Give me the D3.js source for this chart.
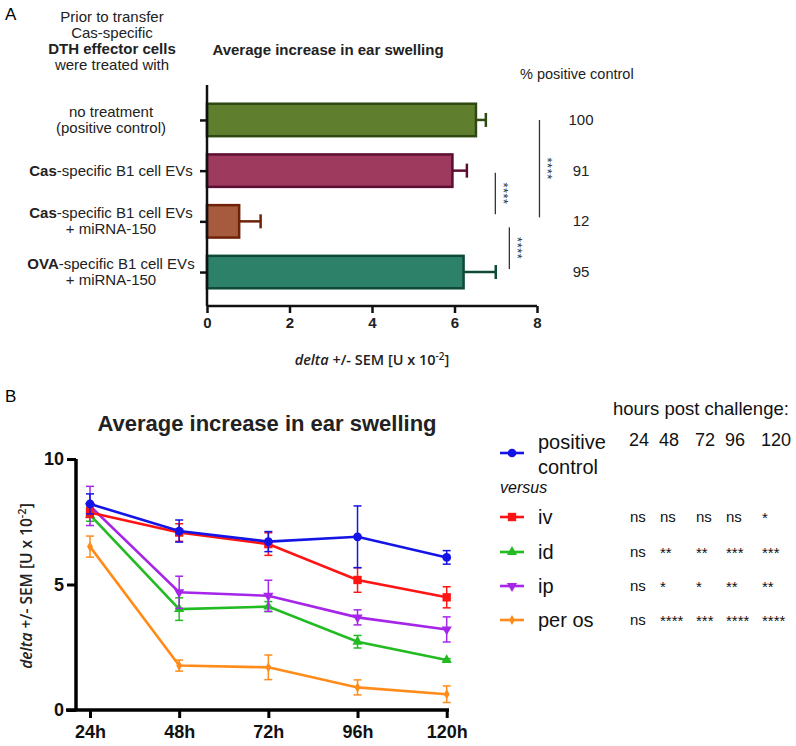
<!DOCTYPE html>
<html>
<head>
<meta charset="utf-8">
<script src="https://cdn.jsdelivr.net/npm/d3@7"></script>
<style>
  html, body { margin: 0; padding: 0; background: #fff; }
  svg { display: block; font-family: "Liberation Sans", Arial, sans-serif; }
</style>
</head>
<body>
<svg id="chart" width="796" height="746"></svg>
<script>
// ---------- Panel A data ----------
const barCategories = ["no treatment", "Cas B1 EVs", "Cas B1 EVs + miRNA-150", "OVA B1 EVs + miRNA-150"];
const barLabelLines = [
  [[{t:"no treatment", b:false}], [{t:"(positive control)", b:false}]],
  [[{t:"Cas", b:true}, {t:"-specific B1 cell EVs", b:false}]],
  [[{t:"Cas", b:true}, {t:"-specific B1 cell EVs", b:false}], [{t:"+ miRNA-150", b:false}]],
  [[{t:"OVA", b:true}, {t:"-specific B1 cell EVs", b:false}], [{t:"+ miRNA-150", b:false}]]
];
const barValues = [6.52, 5.95, 0.78, 6.22];
const barErrors = [0.24, 0.35, 0.52, 0.78];
const barPercent = ["100", "91", "12", "95"];
const barFill = ["#5f7f2f", "#9e3a5e", "#a65a3e", "#2d8169"];
const barStroke = ["#2e4a12", "#5c0f32", "#6e2208", "#0f4a36"];
const barXTicks = [0, 2, 4, 6, 8];
const sigComparisons = [
  {from: 1, to: 2, x: 6.99, label: "****", off0: 2, off1: -7},
  {from: 0, to: 2, x: 8.06, label: "****", off0: 0, off1: -4},
  {from: 2, to: 3, x: 7.33, label: "****", off0: 6, off1: -3}
];

// ---------- Panel B data ----------
const timepoints = ["24h", "48h", "72h", "96h", "120h"];
const yTicksB = [0, 5, 10];
const seriesNames = ["positive control", "iv", "id", "ip", "per os"];
const seriesColors = ["#1414e6", "#ff1414", "#22bb22", "#a526e8", "#ff8c1a"];
const seriesSymbols = ["circle", "square", "triangle", "triangleDown", "diamond"];
const posControl = [8.21, 7.13, 6.71, 6.90, 6.08];
const posControlErr = [0.40, 0.44, 0.40, 1.23, 0.27];
const ivValues = [7.87, 7.07, 6.61, 5.18, 4.49];
const ivErr = [0.20, 0.35, 0.45, 0.49, 0.42];
const idValues = [7.77, 4.02, 4.12, 2.72, 1.99];
const idErr = [0.25, 0.45, 0.20, 0.25, 0.05];
const ipValues = [8.13, 4.69, 4.55, 3.69, 3.21];
const ipErr = [0.78, 0.64, 0.62, 0.30, 0.50];
const perOsValues = [6.51, 1.77, 1.70, 0.90, 0.63];
const perOsErr = [0.42, 0.22, 0.49, 0.30, 0.33];
const hoursHeader = ["24", "48", "72", "96", "120"];
const sigIv = ["ns", "ns", "ns", "ns", "*"];
const sigId = ["ns", "**", "**", "***", "***"];
const sigIp = ["ns", "*", "*", "**", "**"];
const sigPerOs = ["ns", "****", "***", "****", "****"];

const svg = d3.select("#chart");

// =============== PANEL A ===============
svg.append("text").attr("x", 5).attr("y", 20).attr("font-size", 17).text("A");

const introLines = [
  {t: "Prior to transfer", b: false},
  {t: "Cas-specific", b: false},
  {t: "DTH effector cells", b: true},
  {t: "were treated with", b: false}
];
introLines.forEach((l, i) => {
  svg.append("text").attr("x", 112).attr("y", 22 + i * 16)
    .attr("text-anchor", "middle").attr("font-size", 15)
    .attr("font-weight", l.b ? "bold" : "normal").attr("fill", "#222").text(l.t);
});

svg.append("text").attr("x", 328).attr("y", 55).attr("text-anchor", "middle")
  .attr("font-size", 15).attr("font-weight", "bold").attr("fill", "#222")
  .text("Average increase in ear swelling");

svg.append("text").attr("x", 520).attr("y", 79).attr("font-size", 14.5)
  .attr("fill", "#222").text("% positive control");

const xA = d3.scaleLinear().domain([0, 8]).range([207, 537]);
const yA = d3.scalePoint().domain(barCategories).range([94.6, 297.4]).padding(0.5);
const barH = yA.step() * 0.64;

// bars
const gA = svg.append("g");
barCategories.forEach((c, i) => {
  const yc = yA(c);
  gA.append("line").attr("x1", xA(barValues[i])).attr("x2", xA(barValues[i] + barErrors[i]))
    .attr("y1", yc).attr("y2", yc).attr("stroke", barStroke[i]).attr("stroke-width", 2.5);
  gA.append("line").attr("x1", xA(barValues[i] + barErrors[i])).attr("x2", xA(barValues[i] + barErrors[i]))
    .attr("y1", yc - 7).attr("y2", yc + 7).attr("stroke", barStroke[i]).attr("stroke-width", 2.5);
  gA.append("rect").attr("x", xA(0)).attr("y", yc - barH / 2)
    .attr("width", xA(barValues[i]) - xA(0)).attr("height", barH)
    .attr("fill", barFill[i]).attr("stroke", barStroke[i]).attr("stroke-width", 2.5);
  svg.append("text").attr("x", 581).attr("y", yc + 5).attr("text-anchor", "middle")
    .attr("font-size", 15).attr("fill", "#222").text(barPercent[i]);
  const lines = barLabelLines[i];
  const y0 = yc - (lines.length - 1) * 8 + 5;
  lines.forEach((ln, j) => {
    const t = svg.append("text").attr("x", 111).attr("y", y0 + j * 16)
      .attr("text-anchor", "middle").attr("font-size", 15).attr("fill", "#222");
    ln.forEach(seg => t.append("tspan").attr("font-weight", seg.b ? "bold" : "normal").text(seg.t));
  });
});

// axes A
const xAxisA = d3.axisBottom(xA).tickValues(barXTicks).tickSize(7).tickFormat(d3.format("d"));
const gxA = svg.append("g").attr("transform", "translate(0,306)").call(xAxisA);
gxA.select(".domain").attr("d", `M${xA(0)},0H${xA(8)}`).attr("stroke", "#111").attr("stroke-width", 2.5);
gxA.selectAll(".tick line").attr("stroke", "#111").attr("stroke-width", 2.5);
gxA.selectAll(".tick text").attr("font-size", 15).attr("font-weight", "bold").attr("fill", "#222")
  .attr("font-family", "Liberation Sans, Arial, sans-serif").attr("y", 11);

const yAxisA = d3.axisLeft(yA).tickSize(7).tickFormat("");
const gyA = svg.append("g").attr("transform", `translate(${xA(0)},0)`).call(yAxisA);
gyA.select(".domain").attr("d", "M0,85V306").attr("stroke", "#111").attr("stroke-width", 2.5);
gyA.selectAll(".tick line").attr("stroke", "#111").attr("stroke-width", 2.5);

const xlabA = svg.append("text").attr("x", 372).attr("y", 365).attr("text-anchor", "middle")
  .attr("font-family", "Open Sans, sans-serif").attr("font-size", 14.5).attr("font-weight", 600).attr("fill", "#222");
xlabA.append("tspan").attr("font-style", "italic").text("delta");
xlabA.append("tspan").text(" +/- SEM [U x 10");
xlabA.append("tspan").attr("font-size", 10).attr("dy", -5).text("-2");
xlabA.append("tspan").attr("dy", 5).text("]");

// significance brackets
sigComparisons.forEach(s => {
  const x = xA(s.x);
  const ya = yA(barCategories[s.from]) + s.off0;
  const yb = yA(barCategories[s.to]) + s.off1;
  svg.append("line").attr("x1", x).attr("x2", x).attr("y1", ya).attr("y2", yb)
    .attr("stroke", "#333").attr("stroke-width", 1.3);
  const cy = (ya + yb) / 2;
  svg.append("text").attr("transform", `translate(${x + 4},${cy}) rotate(90)`)
    .attr("text-anchor", "middle").attr("font-size", 13).attr("fill", "#333")
    .attr("letter-spacing", 0.5).text(s.label);
});

// =============== PANEL B ===============
svg.append("text").attr("x", 5).attr("y", 402).attr("font-size", 17).text("B");
svg.append("text").attr("x", 267).attr("y", 431).attr("text-anchor", "middle")
  .attr("font-size", 22).attr("font-weight", "bold").attr("fill", "#222")
  .text("Average increase in ear swelling");

const xB = d3.scalePoint().domain(timepoints).range([90, 446.7]);
const yB = d3.scaleLinear().domain([0, 10]).range([710, 459]);

const gxB = svg.append("g").attr("transform", "translate(0,710)")
  .call(d3.axisBottom(xB).tickSize(8));
gxB.select(".domain").attr("d", "M66,0H449").attr("stroke", "#000").attr("stroke-width", 3.5);
gxB.selectAll(".tick line").attr("stroke", "#000").attr("stroke-width", 3);
gxB.selectAll(".tick text").attr("font-size", 18).attr("font-weight", "bold").attr("fill", "#111")
  .attr("font-family", "Liberation Sans, Arial, sans-serif").attr("y", 15);

const gyB = svg.append("g").attr("transform", "translate(76,0)")
  .call(d3.axisLeft(yB).tickValues(yTicksB).tickSize(9));
gyB.select(".domain").attr("d", "M0,459V711").attr("stroke", "#000").attr("stroke-width", 3.5);
gyB.selectAll(".tick line").attr("stroke", "#000").attr("stroke-width", 3);
gyB.selectAll(".tick text").attr("font-size", 18).attr("font-weight", "bold").attr("fill", "#111")
  .attr("font-family", "Liberation Sans, Arial, sans-serif").attr("x", -12);

const ylabB = svg.append("text").attr("transform", "translate(32,586) rotate(-90)")
  .attr("text-anchor", "middle").attr("font-family", "Open Sans, sans-serif")
  .attr("font-size", 15.5).attr("font-weight", 600).attr("fill", "#222");
ylabB.append("tspan").attr("font-style", "italic").text("delta");
ylabB.append("tspan").text(" +/- SEM [U x 10");
ylabB.append("tspan").attr("font-size", 11).attr("dy", -6).text("-2");
ylabB.append("tspan").attr("dy", 6).text("]");

const seriesValues = [posControl, ivValues, idValues, ipValues, perOsValues];
const seriesErrors = [posControlErr, ivErr, idErr, ipErr, perOsErr];
const symbolTypes = {
  circle: d3.symbolCircle, square: d3.symbolSquare, triangle: d3.symbolTriangle,
  triangleDown: d3.symbolTriangle, diamond: d3.symbolDiamond
};
const symbolSizes = {circle: 60, square: 70, triangle: 45, triangleDown: 45, diamond: 30};
function drawSymbol(g, type, x, y, color) {
  const rot = type === "triangleDown" ? 180 : 0;
  g.append("path").attr("d", d3.symbol().type(symbolTypes[type]).size(symbolSizes[type])())
    .attr("transform", `translate(${x},${y}) rotate(${rot})`).attr("fill", color);
}

const drawOrder = [4, 2, 3, 1, 0];
const gLines = svg.append("g");
drawOrder.forEach(si => {
  const vals = seriesValues[si], errs = seriesErrors[si], col = seriesColors[si];
  const g = gLines.append("g");
  vals.forEach((v, i) => {
    const x = xB(timepoints[i]);
    g.append("line").attr("x1", x).attr("x2", x).attr("y1", yB(v - errs[i])).attr("y2", yB(v + errs[i]))
      .attr("stroke", col).attr("stroke-width", 1.5);
    [v - errs[i], v + errs[i]].forEach(e => {
      g.append("line").attr("x1", x - 4).attr("x2", x + 4).attr("y1", yB(e)).attr("y2", yB(e))
        .attr("stroke", col).attr("stroke-width", 1.5);
    });
  });
  g.append("path").datum(vals)
    .attr("d", d3.line().x((d, i) => xB(timepoints[i])).y(d => yB(d)))
    .attr("fill", "none").attr("stroke", col).attr("stroke-width", 2.6);
  vals.forEach((v, i) => drawSymbol(g, seriesSymbols[si], xB(timepoints[i]), yB(v), col));
});

// legend
svg.append("text").attr("x", 613).attr("y", 415).attr("font-size", 18.5).attr("fill", "#111")
  .text("hours post challenge:");
const colX = [629, 659, 695, 725, 761];
hoursHeader.forEach((h, i) => {
  svg.append("text").attr("x", colX[i]).attr("y", 446).attr("font-size", 18).attr("fill", "#111").text(h);
});

const legendRows = [453, 517, 552, 586, 620];
const sigRows = [null, sigIv, sigId, sigIp, sigPerOs];
seriesNames.forEach((n, si) => {
  const y = legendRows[si], col = seriesColors[si];
  svg.append("line").attr("x1", 500).attr("x2", 524).attr("y1", y).attr("y2", y)
    .attr("stroke", col).attr("stroke-width", 2.6);
  drawSymbol(svg, seriesSymbols[si], 512, y, col);
  if (si === 0) {
    svg.append("text").attr("x", 538).attr("y", 449).attr("font-size", 20).attr("fill", "#111").text("positive");
    svg.append("text").attr("x", 538).attr("y", 474).attr("font-size", 20).attr("fill", "#111").text("control");
  } else {
    svg.append("text").attr("x", 538).attr("y", y + 7).attr("font-size", 20).attr("fill", "#111").text(n);
    sigRows[si].forEach((s, i) => {
      const isStar = s.indexOf("*") === 0;
      svg.append("text").attr("x", colX[i] + 1).attr("y", isStar ? y + 6 : y + 5)
        .attr("font-size", 15).attr("fill", "#111").text(s);
    });
  }
});
svg.append("text").attr("x", 500).attr("y", 493).attr("font-size", 16).attr("font-style", "italic")
  .attr("fill", "#111").text("versus");
</script>
</body>
</html>
